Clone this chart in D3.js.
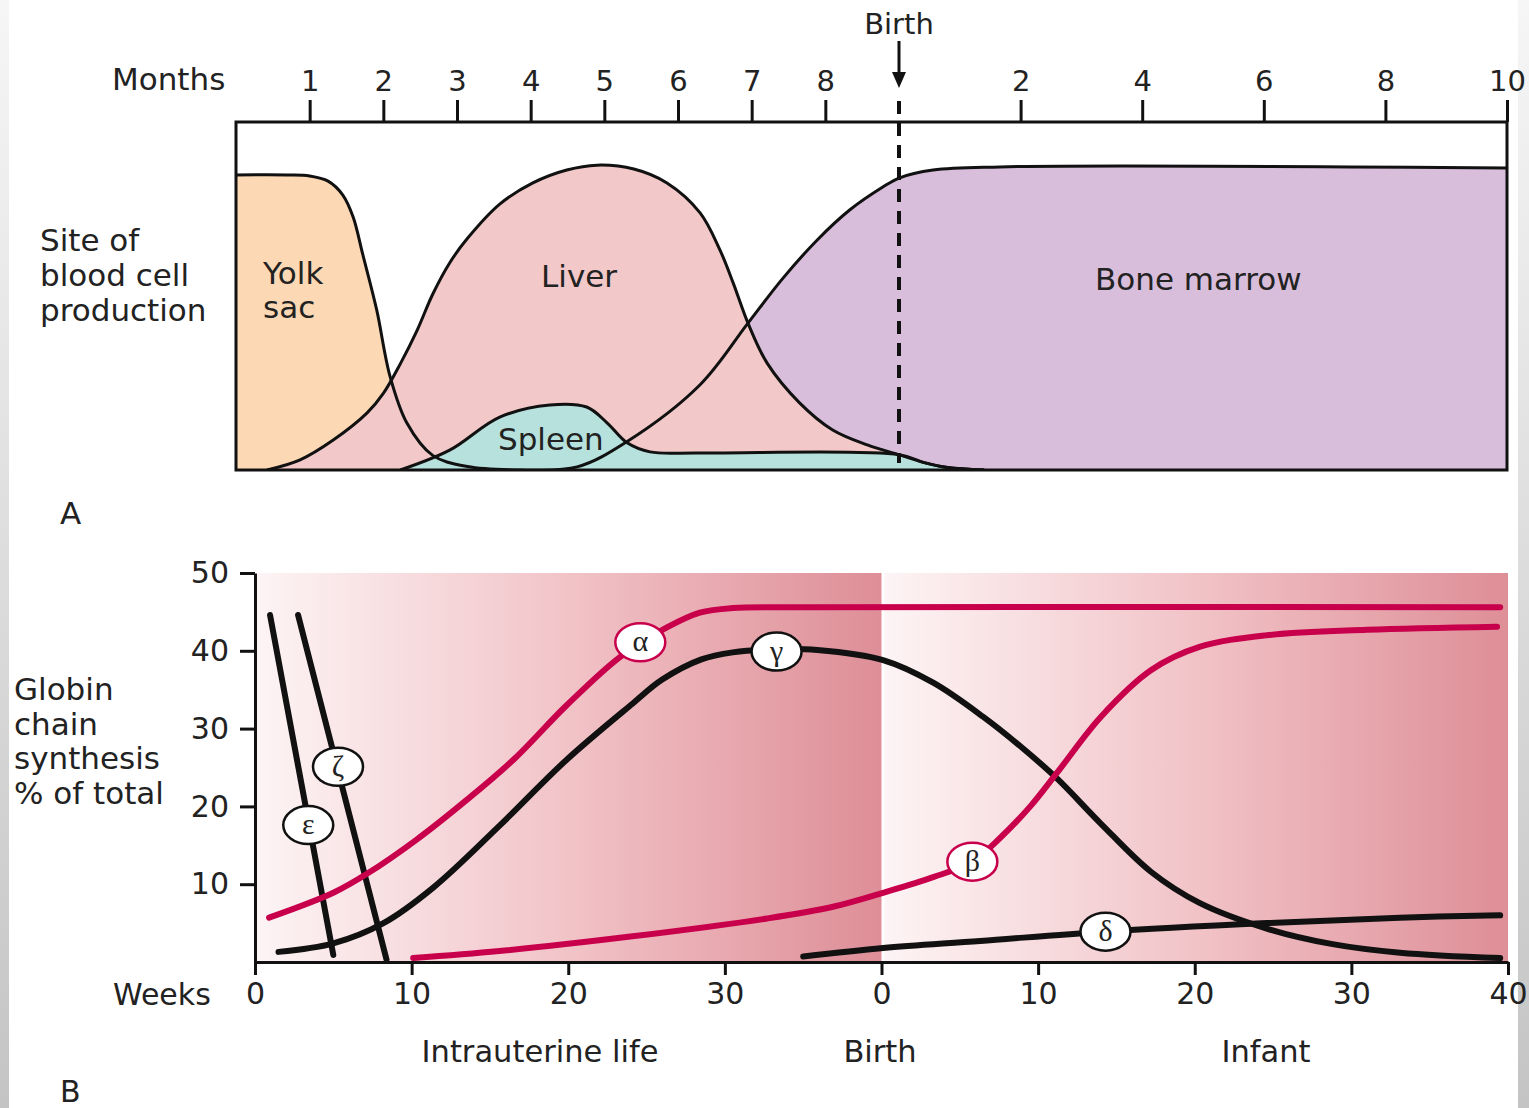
<!DOCTYPE html>
<html>
<head>
<meta charset="utf-8">
<script src="https://cdn.jsdelivr.net/npm/d3@7"></script>
<style>
  body { margin: 0; background: #fff; }
  svg { display: block; font-family: "DejaVu Sans", sans-serif; }
</style>
</head>
<body>
<div id="chart"></div>
<script>
// ---- panel A: site of blood cell production (months on one timeline, 9 = birth) ----
const monthTicksPre = [1, 2, 3, 4, 5, 6, 7, 8];
const monthTicksPost = [2, 4, 6, 8, 10];
const yolkSac = [[0, 84.8], [0.7, 84.8], [1.0, 84.5], [1.25, 83], [1.45, 79], [1.59, 72.7], [1.72, 62], [1.91, 46], [2.09, 27], [2.32, 13.5], [2.67, 4.2], [3.14, 1.0], [3.85, 0]];
const liver = [[0.42, 0], [0.87, 2.9], [1.32, 8.6], [1.78, 16.4], [2.0, 22], [2.23, 30.5], [2.46, 40.2], [2.67, 50.5], [2.9, 59.5], [3.14, 66.5], [3.58, 76.4], [4.03, 82.5], [4.49, 86.2], [4.9, 87.6], [5.4, 86.5], [5.85, 82.5], [6.3, 73.9], [6.57, 63.2], [6.75, 53.7], [6.95, 42.2], [7.21, 30.7], [7.65, 19.3], [8.1, 11.5], [8.57, 7.2], [9.0, 4.4], [9.4, 2.2], [9.8, 0.7], [10.4, 0]];
const spleen = [[2.23, 0], [2.9, 5.7], [3.58, 15.2], [4.26, 18.7], [4.76, 18.1], [5.04, 13.5], [5.31, 7.8], [5.62, 5.2], [6.3, 4.9], [9.0, 4.4], [9.4, 2.2], [9.8, 0.7], [10.4, 0]];
const boneMarrow = [[3.85, 0], [4.63, 0.9], [5.31, 8.2], [6.3, 24.5], [6.95, 42.2], [7.42, 55], [7.89, 66.1], [8.33, 74.7], [8.78, 81.3], [9.0, 83.9], [9.56, 86.2], [10.66, 87.1], [19, 86.8]];

// ---- panel B: globin chain synthesis (weeks on one timeline, 40 = birth) ----
const weekTicks = [0, 10, 20, 30, 40, 50, 60, 70, 80];
const pctTicks = [10, 20, 30, 40, 50];
const alpha = [[0.9, 5.7], [5, 8.9], [7.2, 11.4], [10.3, 15.7], [13.5, 20.8], [16.5, 26], [19.9, 33], [23.3, 39.2], [26.3, 43], [28.4, 44.9], [30.5, 45.5], [35, 45.6], [79.5, 45.6]];
const gamma = [[1.5, 1.3], [5, 2.4], [8.2, 5], [11.4, 9.6], [15.6, 17.5], [19.9, 26], [24.1, 33.2], [26, 36.3], [28.5, 38.9], [30.5, 39.8], [33.3, 40.2], [35.9, 40.1], [40.1, 38.8], [43.3, 35.9], [46.5, 31.5], [49, 27.5], [51.2, 23.6], [54, 17.8], [57.2, 11.6], [60.3, 7.6], [64.6, 4.3], [68.8, 2.3], [73.1, 1.2], [79.5, 0.5]];
const beta = [[10.1, 0.5], [15.6, 1.4], [24.1, 3.3], [32.7, 5.6], [36.9, 7.1], [40.1, 8.9], [43.3, 10.9], [45.8, 12.9], [47.6, 16], [49.5, 20], [51.2, 24.3], [54, 31.5], [57.2, 37.5], [60.3, 40.5], [64.6, 42], [71, 42.7], [79.3, 43.1]];
const delta = [[35, 0.7], [40.1, 1.8], [46.3, 2.7], [54.2, 3.9], [64.6, 5], [73.1, 5.7], [79.5, 6]];
const epsilon = [[0.96, 44.6], [5, 0.9]];
const zeta = [[2.75, 44.6], [8.4, 0.3]];
const greekLabels = [
  {sym: 'α', week: 24.6, value: 41.1, red: true},
  {sym: 'γ', week: 33.3, value: 39.9, red: false},
  {sym: 'β', week: 45.8, value: 12.9, red: true},
  {sym: 'δ', week: 54.3, value: 3.9, red: false},
  {sym: 'ζ', week: 5.3, value: 25.1, red: false},
  {sym: 'ε', week: 3.4, value: 17.6, red: false}
];

const W = 1529, H = 1108;
const red = '#c8004c';
const ink = '#222';

const svg = d3.select('#chart').append('svg').attr('width', W).attr('height', H);
const defs = svg.append('defs');

// faint grey frame of the scanned page
const edge = defs.append('linearGradient').attr('id', 'edge').attr('x1', 0).attr('y1', 0).attr('x2', 0).attr('y2', 1);
edge.append('stop').attr('offset', 0).attr('stop-color', '#f6f6f6');
edge.append('stop').attr('offset', 1).attr('stop-color', '#c4c4c4');
svg.append('rect').attr('x', 0).attr('y', 0).attr('width', 9).attr('height', H).attr('fill', 'url(#edge)');
svg.append('rect').attr('x', 1518).attr('y', 0).attr('width', 11).attr('height', H).attr('fill', 'url(#edge)');

const smooth = d3.curveCatmullRom.alpha(0.5);

// ================= panel A =================
const xA = d3.scaleLinear().domain([0, 9, 19]).range([236, 899, 1507]);
const yA = d3.scaleLinear().domain([0, 100]).range([470, 122]);

defs.append('clipPath').attr('id', 'boxA').append('rect')
  .attr('x', xA(0)).attr('y', yA(100)).attr('width', xA(19) - xA(0)).attr('height', yA(0) - yA(100));

const areaA = d3.area().x(d => xA(d[0])).y0(yA(0)).y1(d => yA(d[1])).curve(smooth);
const lineA = d3.line().x(d => xA(d[0])).y(d => yA(d[1])).curve(smooth);

const gA = svg.append('g').attr('clip-path', 'url(#boxA)');
const sites = [
  {data: yolkSac, fill: '#fdd8b4'},
  {data: boneMarrow, fill: '#d9bedc'},
  {data: liver, fill: '#f2c8c8'},
  {data: spleen, fill: '#b7e1dd'}
];
gA.selectAll('path.area').data(sites).join('path')
  .attr('class', 'area')
  .attr('d', d => areaA(d.data))
  .attr('fill', d => d.fill);
gA.selectAll('path.edge').data(sites).join('path')
  .attr('class', 'edge')
  .attr('d', d => lineA(d.data))
  .attr('fill', 'none').attr('stroke', '#111').attr('stroke-width', 3);

// box
svg.append('rect')
  .attr('x', xA(0)).attr('y', yA(100)).attr('width', xA(19) - xA(0)).attr('height', yA(0) - yA(100))
  .attr('fill', 'none').attr('stroke', '#111').attr('stroke-width', 3);

// months axis
const monthAxis = d3.axisTop(xA)
  .tickValues(monthTicksPre.concat(monthTicksPost.map(m => m + 9)))
  .tickFormat(d => d > 9 ? d - 9 : d)
  .tickSize(22).tickPadding(9);
const gm = svg.append('g').attr('transform', `translate(0,${yA(100)})`).call(monthAxis);
gm.select('.domain').remove();
gm.selectAll('line').attr('stroke', '#111').attr('stroke-width', 3);
gm.selectAll('text').attr('font-size', 29).attr('fill', ink).attr('font-family', 'DejaVu Sans');

svg.append('text').attr('x', 112).attr('y', 90).attr('font-size', 31).attr('fill', ink).text('Months');

// birth marker
svg.append('text').attr('x', xA(9)).attr('y', 34).attr('text-anchor', 'middle').attr('font-size', 29).attr('fill', ink).text('Birth');
svg.append('line').attr('x1', xA(9)).attr('x2', xA(9)).attr('y1', 41).attr('y2', 74)
  .attr('stroke', '#111').attr('stroke-width', 3);
svg.append('path').attr('d', `M${xA(9) - 7},72 L${xA(9) + 7},72 L${xA(9)},88 Z`).attr('fill', '#111');
svg.append('line').attr('x1', xA(9)).attr('x2', xA(9)).attr('y1', 101).attr('y2', 463)
  .attr('stroke', '#111').attr('stroke-width', 4).attr('stroke-dasharray', '13,9');

// labels
const labA = [
  {t: 'Yolk', x: 263, y: 284}, {t: 'sac', x: 263, y: 318},
  {t: 'Liver', x: 541, y: 287}, {t: 'Spleen', x: 498, y: 450},
  {t: 'Bone marrow', x: 1095, y: 290}
];
svg.selectAll('text.labA').data(labA).join('text')
  .attr('class', 'labA').attr('x', d => d.x).attr('y', d => d.y)
  .attr('font-size', 31).attr('fill', ink).text(d => d.t);

const sideA = ['Site of', 'blood cell', 'production'];
svg.selectAll('text.sideA').data(sideA).join('text')
  .attr('class', 'sideA').attr('x', 40).attr('y', (d, i) => 251 + i * 35)
  .attr('font-size', 31).attr('fill', ink).text(d => d);
svg.append('text').attr('x', 60).attr('y', 524).attr('font-size', 31).attr('fill', ink).text('A');

// ================= panel B =================
const xB = d3.scaleLinear().domain([0, 80]).range([255, 1508]);
const yB = d3.scaleLinear().domain([0, 50]).range([962, 573]);

const bg = defs.append('linearGradient').attr('id', 'bgB');
bg.append('stop').attr('offset', 0).attr('stop-color', '#fdf4f5');
bg.append('stop').attr('offset', 0.5).attr('stop-color', '#f1c3c7');
bg.append('stop').attr('offset', 1).attr('stop-color', '#de8e97');

[[0, 40], [40, 80]].forEach(([a, b]) => {
  svg.append('rect')
    .attr('x', xB(a) + (a ? 3 : 2)).attr('y', yB(50))
    .attr('width', xB(b) - xB(a) - (a ? 3 : 2)).attr('height', yB(0) - yB(50))
    .attr('fill', 'url(#bgB)');
});

const lineB = d3.line().x(d => xB(d[0])).y(d => yB(d[1])).curve(smooth);
const chains = [
  {data: epsilon, color: '#111'},
  {data: zeta, color: '#111'},
  {data: gamma, color: '#111'},
  {data: delta, color: '#111'},
  {data: alpha, color: red},
  {data: beta, color: red}
];
svg.append('g').selectAll('path').data(chains).join('path')
  .attr('d', d => lineB(d.data))
  .attr('fill', 'none').attr('stroke', d => d.color)
  .attr('stroke-width', 6).attr('stroke-linecap', 'round');

// axes
const yAxis = d3.axisLeft(yB).tickValues(pctTicks).tickSize(15).tickSizeOuter(0).tickPadding(11);
const gy = svg.append('g').attr('transform', `translate(${xB(0)},0)`).call(yAxis);
gy.selectAll('line, .domain').attr('stroke', '#111').attr('stroke-width', 3);
gy.selectAll('text').attr('font-size', 30).attr('fill', ink).attr('font-family', 'DejaVu Sans');

const xAxis = d3.axisBottom(xB).tickValues(weekTicks).tickFormat(d => d >= 40 ? d - 40 : d)
  .tickSize(13).tickSizeOuter(0).tickPadding(8);
const gx = svg.append('g').attr('transform', `translate(0,${yB(0)})`).call(xAxis);
gx.selectAll('line, .domain').attr('stroke', '#111').attr('stroke-width', 3);
gx.selectAll('text').attr('font-size', 30).attr('fill', ink).attr('font-family', 'DejaVu Sans');

svg.append('text').attr('x', 113).attr('y', 1005).attr('font-size', 30).attr('fill', ink).text('Weeks');

// greek chain labels
const gl = svg.append('g').selectAll('g').data(greekLabels).join('g')
  .attr('transform', d => `translate(${xB(d.week)},${yB(d.value)})`);
gl.append('ellipse').attr('rx', 25).attr('ry', 19)
  .attr('fill', '#fff').attr('stroke', d => d.red ? red : '#111').attr('stroke-width', 2.5);
gl.append('text').attr('text-anchor', 'middle').attr('dy', '0.3em')
  .attr('font-family', '"Liberation Serif", serif').attr('font-size', 30).attr('fill', ink)
  .text(d => d.sym);

const sideB = ['Globin', 'chain', 'synthesis', '% of total'];
svg.selectAll('text.sideB').data(sideB).join('text')
  .attr('class', 'sideB').attr('x', 14).attr('y', (d, i) => 700 + i * 34.5)
  .attr('font-size', 31).attr('fill', ink).text(d => d);

const phases = [{t: 'Intrauterine life', x: 540}, {t: 'Birth', x: 880}, {t: 'Infant', x: 1266}];
svg.selectAll('text.phase').data(phases).join('text')
  .attr('class', 'phase').attr('x', d => d.x).attr('y', 1062).attr('text-anchor', 'middle')
  .attr('font-size', 30.5).attr('fill', ink).text(d => d.t);

svg.append('text').attr('x', 60).attr('y', 1102).attr('font-size', 30).attr('fill', ink).text('B');
</script>
</body>
</html>
